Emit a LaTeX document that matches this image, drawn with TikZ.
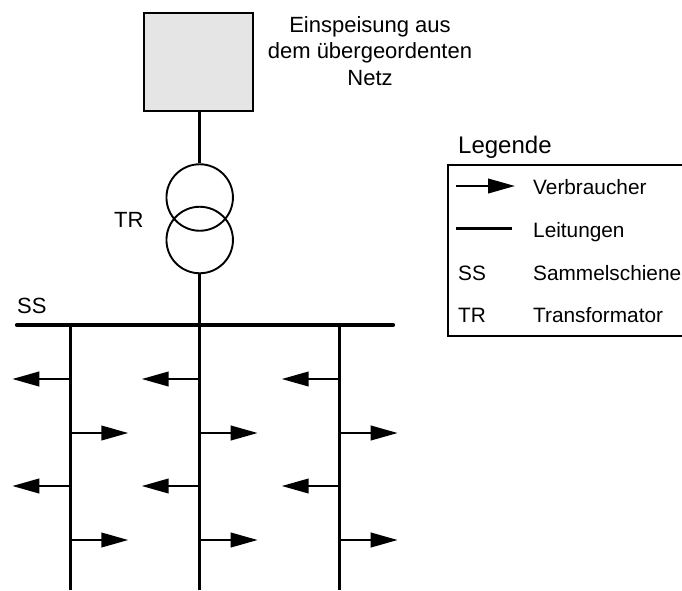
\documentclass[tikz,border=0pt]{standalone}
\usepackage{fontspec}
\setmainfont{Liberation Sans}
\usetikzlibrary{arrows.meta,patterns.meta}
\tikzset{
 x=1pt,y=-1pt,
 wire/.style={line width=3pt,black},
 feeder/.style={line width=2.4pt,black,-{Triangle[length=27pt,width=14.5pt,sep=0pt]}},
 lab/.style={anchor=base west,inner sep=0pt,font=\fontsize{20.8}{24}\selectfont},
 biglab/.style={anchor=base west,inner sep=0pt,font=\fontsize{22}{26}\selectfont},
 tline/.style={inner sep=0pt,font=\fontsize{22}{26.5}\selectfont,align=center},
 trafo/.style={circle,draw,line width=1.9pt,minimum size=66.5pt,inner sep=0pt},
}
\begin{document}
\begin{tikzpicture}
\useasboundingbox (0,0) rectangle (682,590);
\node[rectangle,draw,line width=1.8pt,preaction={fill=black!3},pattern={Dots[distance=2pt,radius=.6pt]},pattern color=black!32,minimum width=109pt,minimum height=98pt,inner sep=0pt] (netz) at (198.5,62) {};
\node[tline] (netztext) at (370,51) {Einspeisung aus\\dem übergeordenten\\Netz};
\node[trafo] (t1) at (199.7,197.5) {};
\node[trafo] (t2) at (199.7,240) {};
\node[biglab] (trl) at (114,227) {TR};
\node[biglab] (ssl) at (17,313) {SS};
\coordinate (bl) at (17,325); \coordinate (br) at (393,325);
\draw[line width=4.2pt,line cap=round] (bl) -- (br);
\coordinate (bus2) at (199.7,325);
\draw[wire] (t1.north |- netz.south) -- (t1.north);
\draw[wire] (t2.south) -- (bus2);
\foreach \n/\x in {a/70.3,b/199.7,c/339.7}{
 \coordinate (\n top) at (\x,325); \coordinate (\n bot) at (\x,590);
 \draw[wire] (\n top) -- (\n bot);
 \foreach \m/\y/\d in {1/379/-58,2/433/58,3/486/-58,4/540/58}{
  \coordinate (\n s\m) at (\x,\y); \coordinate (\n e\m) at (\x+\d,\y);
  \draw[feeder] (\n s\m) -- (\n e\m);
 }
}
\node[anchor=base west,inner sep=0pt,font=\fontsize{24}{28}\selectfont] (legt) at (458,153) {Legende};
\node[rectangle,draw,line width=1.6pt,minimum width=240pt,minimum height=171pt,anchor=north west,inner sep=0pt] (leg) at (447,164) {};
\coordinate (l1a) at (456,186); \coordinate (l1b) at (515,186);
\draw[feeder] (l1a) -- (l1b);
\coordinate (l2a) at (456,228.4); \coordinate (l2b) at (512,228.4);
\draw[wire] (l2a) -- (l2b);
\node[lab] (v) at (533,194) {Verbraucher};
\node[lab] (l) at (533,237) {Leitungen};
\node[lab] (ss) at (458,280) {SS};
\node[lab] (s) at (533,280) {Sammelschiene};
\node[lab] (tr) at (458,322) {TR};
\node[lab] (tf) at (533,322) {Transformator};
\end{tikzpicture}
\end{document}
